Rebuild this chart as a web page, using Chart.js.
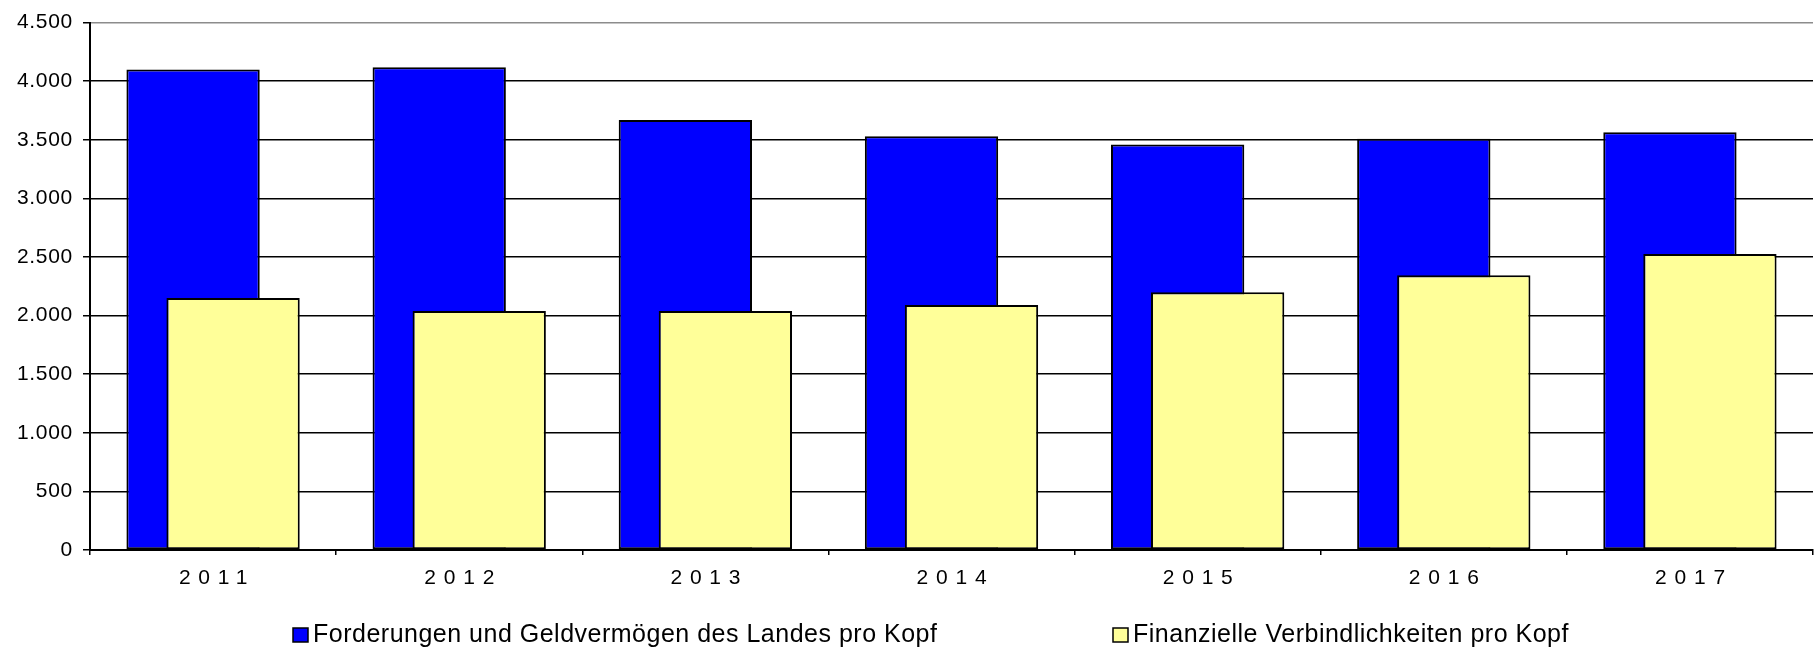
<!DOCTYPE html>
<html>
<head>
<meta charset="utf-8">
<script src="https://cdn.jsdelivr.net/npm/chart.js@4/dist/chart.umd.min.js"></script>
<style>
  html, body { margin: 0; padding: 0; background: #fff; }
  #wrap { width: 1817px; height: 647px; }
</style>
</head>
<body>
<div id="wrap"><canvas id="c" width="1817" height="647"></canvas></div>
<script>
const years = ['2011', '2012', '2013', '2014', '2015', '2016', '2017'];
const forderungen = [4100, 4120, 3670, 3530, 3460, 3510, 3565];
const verbindlichkeiten = [2150, 2040, 2040, 2090, 2200, 2345, 2525];
const seriesLabels = ['Forderungen und Geldvermögen des Landes pro Kopf', 'Finanzielle Verbindlichkeiten pro Kopf'];
const yTicks = [0, 500, 1000, 1500, 2000, 2500, 3000, 3500, 4000, 4500];

const FONT = '"Liberation Sans", Arial, sans-serif';

function fmt(v) {
  return String(v).replace(/\B(?=(\d{3})+(?!\d))/g, '.');
}

// draw datasets in index order so the second (yellow) series sits on top
const drawOrderPlugin = {
  id: 'drawOrder',
  beforeDatasetsDraw(chart) {
    chart.data.datasets.forEach((d, i) => {
      const meta = chart.getDatasetMeta(i);
      if (meta.visible !== false) meta.controller.draw();
    });
    return false;
  }
};

// letter spacing on tick labels (Excel-like rendering)
const spacingPlugin = {
  id: 'tickSpacing',
  beforeDraw(chart) {
    const conf = { x: '7.8px', y: '0.7px' };
    Object.keys(conf).forEach(id => {
      const s = chart.scales[id];
      if (!s || s._lsPatched) return;
      const orig = s.drawLabels;
      s.drawLabels = function (area) {
        const ctx = this.ctx;
        ctx.save();
        ctx.letterSpacing = conf[id];
        orig.call(this, area);
        ctx.restore();
      };
      s._lsPatched = true;
    });
  }
};

// grey plot-area border on the right
const borderPlugin = {
  id: 'plotBorder',
  beforeDatasetsDraw(chart) {
    const { ctx, chartArea: a } = chart;
    ctx.save();
    ctx.strokeStyle = '#8c8c8c';
    ctx.lineWidth = 1.5;
    ctx.beginPath();
    ctx.moveTo(a.right, a.top);
    ctx.lineTo(a.right, a.bottom);
    ctx.stroke();
    ctx.restore();
  }
};

// Excel-style legend below the chart
const legendPlugin = {
  id: 'excelLegend',
  afterDraw(chart, args, opts) {
    const ctx = chart.ctx;
    ctx.save();
    ctx.font = '25px ' + FONT;
    ctx.letterSpacing = '0.5px';
    ctx.textBaseline = 'middle';
    ctx.textAlign = 'left';
    chart.data.datasets.forEach((ds, i) => {
      const x = opts.left + i * opts.column;
      const y = opts.y;
      ctx.fillStyle = ds.backgroundColor;
      ctx.fillRect(x, y - 7, 15, 14);
      ctx.strokeStyle = '#000';
      ctx.lineWidth = 1.5;
      ctx.strokeRect(x, y - 7, 15, 14);
      ctx.fillStyle = '#000';
      ctx.fillText(ds.label, x + 20, y);
    });
    ctx.restore();
  }
};

new Chart(document.getElementById('c'), {
  type: 'bar',
  data: {
    labels: years,
    datasets: [
      {
        label: seriesLabels[0],
        data: forderungen,
        backgroundColor: '#0000FF',
        borderColor: '#000000',
        borderWidth: 2,
        borderSkipped: false,
        categoryPercentage: 0.325,
        barPercentage: 3.333
      },
      {
        label: seriesLabels[1],
        data: verbindlichkeiten,
        backgroundColor: '#FFFF99',
        borderColor: '#000000',
        borderWidth: 2,
        borderSkipped: false,
        categoryPercentage: 0.325,
        barPercentage: 3.333
      }
    ]
  },
  options: {
    responsive: false,
    devicePixelRatio: 1,
    animation: false,
    events: [],
    layout: { padding: { left: 0, right: 4, top: 20, bottom: 0 } },
    plugins: {
      legend: { display: false },
      tooltip: { enabled: false },
      excelLegend: { left: 293, column: 820, y: 635 }
    },
    scales: {
      x: {
        offset: true,
        grid: {
          offset: true,
          drawOnChartArea: false,
          drawTicks: true,
          tickLength: 5,
          color: '#000',
          tickColor: '#000',
          lineWidth: 1.5
        },
        border: { color: '#000', width: 2 },
        ticks: {
          color: '#000',
          font: { family: FONT, size: 21 },
          padding: 11,
          labelOffset: 4,
          maxRotation: 0,
          autoSkip: false
        },
        afterFit(scale) { scale.height = 97; }
      },
      y: {
        min: 0,
        max: 4500,
        afterBuildTicks(scale) { scale.ticks = yTicks.map(v => ({ value: v })); },
        grid: {
          color: (c) => (c.tick && c.tick.value === 4500 ? '#8c8c8c' : '#000'),
          tickColor: '#000',
          lineWidth: 1.5,
          tickLength: 7,
          drawTicks: true
        },
        border: { color: '#000', width: 2 },
        ticks: {
          color: '#000',
          font: { family: FONT, size: 21 },
          padding: 10,
          callback: (v) => fmt(v)
        },
        afterFit(scale) { scale.width = 90; }
      }
    }
  },
  plugins: [drawOrderPlugin, spacingPlugin, borderPlugin, legendPlugin]
});
</script>
</body>
</html>
